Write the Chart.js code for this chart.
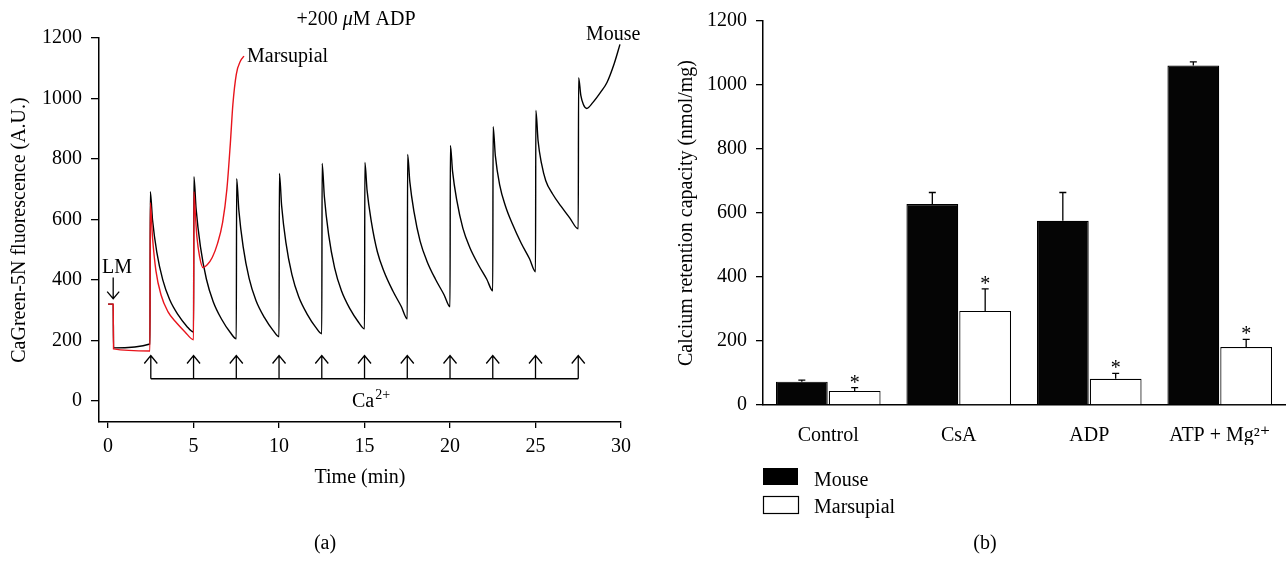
<!DOCTYPE html>
<html>
<head>
<meta charset="utf-8">
<script src="https://cdn.jsdelivr.net/npm/chart.js@4.4.0/dist/chart.umd.min.js"></script>
<style>
  html, body { margin: 0; padding: 0; background: #fff; }
  #wrap { position: relative; width: 1288px; height: 561px; }
  #cA { position: absolute; left: 0; top: 0; }
  #cB { position: absolute; left: 660px; top: 0; }
</style>
</head>
<body>
<div id="wrap">
  <canvas id="cA" width="660" height="561"></canvas>
  <canvas id="cB" width="628" height="561"></canvas>
</div>
<script>
// ---- panel (a): CaGreen-5N traces ----
const mouseTime = [0.0, 0.3, 0.32, 2.45,
  2.47, 2.6, 2.85, 3.2, 3.6, 4.1, 4.6, 5.0,
  5.02, 5.15, 5.4, 5.75, 6.15, 6.65, 7.15, 7.5,
  7.52, 7.65, 7.9, 8.25, 8.65, 9.15, 9.65, 10.0,
  10.02, 10.15, 10.4, 10.75, 11.15, 11.65, 12.15, 12.5,
  12.52, 12.65, 12.9, 13.25, 13.65, 14.15, 14.65, 15.0,
  15.02, 15.15, 15.4, 15.75, 16.15, 16.65, 17.15, 17.5,
  17.52, 17.65, 17.9, 18.25, 18.65, 19.15, 19.65, 20.0,
  20.02, 20.15, 20.4, 20.75, 21.15, 21.65, 22.15, 22.5,
  22.52, 22.65, 22.9, 23.25, 23.65, 24.15, 24.65, 25.0,
  25.02, 25.15, 25.35, 25.6, 26.0, 26.5, 27.0, 27.5,
  27.52, 27.65, 27.8, 28.0, 28.36, 28.8, 29.18, 29.6, 29.94];
const mouseSignal = [320, 320, 175, 188,
  692, 599, 492, 400, 335, 284, 247, 228,
  741, 634, 511, 403, 328, 269, 226, 205,
  735, 630, 510, 405, 332, 275, 233, 212,
  752, 646, 524, 418, 344, 286, 243, 222,
  785, 676, 550, 440, 364, 304, 260, 238,
  788, 695, 592, 493, 426, 364, 312, 271,
  815, 724, 623, 528, 462, 402, 351, 311,
  845, 758, 662, 571, 508, 451, 402, 364,
  907, 811, 715, 643, 585, 523, 470, 427,
  960, 860, 785, 728, 684, 643, 605, 569,
  1069, 1010, 980, 967, 987, 1020, 1053, 1115, 1179];
const marsTime = [0.0, 0.3, 0.32, 2.45,
  2.47, 2.6, 2.8, 3.1, 3.5, 4.0, 4.5, 5.0,
  5.02, 5.1, 5.2, 5.35, 5.55, 5.8, 6.1, 6.4, 6.7, 6.95, 7.15, 7.3, 7.5, 7.75, 7.95];
const marsSignal = [320, 320, 172, 165,
  655, 540, 430, 350, 295, 258, 228, 202,
  692, 620, 540, 478, 441, 450, 475, 520, 590, 700, 850, 980, 1080, 1125, 1140];
const caTimes = [2.5, 5, 7.5, 10, 12.5, 15, 17.5, 20, 22.5, 25, 27.5];
const timeTicks = [0, 5, 10, 15, 20, 25, 30];
const fluorTicks = [0, 200, 400, 600, 800, 1000, 1200];

// ---- panel (b): calcium retention capacity ----
const groups = ['Control', 'CsA', 'ADP', 'ATP + Mg\u00B2\u207A'];
const mouseCRC = [73, 628, 576, 1061];
const mouseErr = [5, 36, 88, 11];
const marsCRC = [44, 294, 82, 181];
const marsErr = [10, 69, 17, 24];
const crcTicks = [0, 200, 400, 600, 800, 1000, 1200];

const SERIF = '"Liberation Serif", "DejaVu Serif", serif';
Chart.defaults.font.family = SERIF;
Chart.defaults.font.size = 20;
Chart.defaults.color = '#000';
Chart.defaults.animation = false;

function xy(ts, vs) { return ts.map((t, i) => ({x: t, y: vs[i]})); }
const plain = v => String(v);

const annotA = {
  id: 'annotA',
  afterDatasetsDraw(chart) {
    const {ctx, scales: {x, y}} = chart;
    ctx.save();
    ctx.strokeStyle = '#000';
    ctx.lineWidth = 1.3;
    // Ca2+ additions
    const yb = y.getPixelForValue(73), yt = y.getPixelForValue(150);
    ctx.beginPath();
    ctx.moveTo(x.getPixelForValue(caTimes[0]), yb);
    ctx.lineTo(x.getPixelForValue(caTimes[caTimes.length - 1]), yb);
    caTimes.forEach(t => {
      const px = x.getPixelForValue(t);
      ctx.moveTo(px, yb); ctx.lineTo(px, yt);
      ctx.moveTo(px - 6.5, yt + 8); ctx.lineTo(px, yt); ctx.lineTo(px + 6.5, yt + 8);
    });
    // LM arrow
    const lx = x.getPixelForValue(0.3);
    const l1 = y.getPixelForValue(408), l2 = y.getPixelForValue(338);
    ctx.moveTo(lx, l1); ctx.lineTo(lx, l2);
    ctx.moveTo(lx - 6, l2 - 7); ctx.lineTo(lx, l2); ctx.lineTo(lx + 6, l2 - 7);
    ctx.stroke();

    ctx.fillStyle = '#000';
    ctx.textBaseline = 'alphabetic';
    ctx.font = '20px ' + SERIF;
    ctx.textAlign = 'left';
    ctx.fillText('LM', 102, 273);
    ctx.fillText('Marsupial', 247, 62);
    ctx.fillText('Mouse', 586, 40);
    // Ca2+
    ctx.fillText('Ca', 352, 407);
    const caW = ctx.measureText('Ca').width;
    ctx.font = '14px ' + SERIF;
    ctx.fillText('2+', 352 + caW + 1, 399);
    // +200 uM ADP
    ctx.font = '20px ' + SERIF;
    const p1 = '+200 ', p3 = 'M ADP';
    const w1 = ctx.measureText(p1).width, w3 = ctx.measureText(p3).width;
    ctx.font = 'italic 20px ' + SERIF;
    const w2 = ctx.measureText('\u03BC').width;
    let sx = 356 - (w1 + w2 + w3) / 2;
    ctx.font = '20px ' + SERIF;
    ctx.fillText(p1, sx, 25);
    ctx.font = 'italic 20px ' + SERIF;
    ctx.fillText('\u03BC', sx + w1, 25);
    ctx.font = '20px ' + SERIF;
    ctx.fillText(p3, sx + w1 + w2, 25);
    ctx.textAlign = 'center';
    ctx.fillText('(a)', 325, 549);
    ctx.restore();
  }
};

new Chart(document.getElementById('cA'), {
  type: 'line',
  data: {
    datasets: [
      {label: 'Marsupial', data: xy(marsTime, marsSignal), borderColor: '#e8141c', borderWidth: 1.4,
       pointRadius: 0, cubicInterpolationMode: 'monotone', fill: false},
      {label: 'Mouse', data: xy(mouseTime, mouseSignal), borderColor: '#000', borderWidth: 1.4,
       pointRadius: 0, cubicInterpolationMode: 'monotone', fill: false}
    ]
  },
  options: {
    responsive: false,
    layout: {padding: {left: 0, right: 39, top: 38, bottom: 71}},
    plugins: {legend: {display: false}, tooltip: {enabled: false}},
    scales: {
      x: {
        type: 'linear', min: -0.53, max: 30,
        afterBuildTicks: s => { s.ticks = timeTicks.map(v => ({value: v})); },
        afterFit: s => { s.height = 68; },
        grid: {drawOnChartArea: false, drawTicks: true, tickLength: 6, color: '#000', lineWidth: 1.3},
        border: {display: true, color: '#000', width: 1.5},
        ticks: {padding: 7, maxRotation: 0, callback: plain},
        title: {display: true, text: 'Time (min)', padding: {top: 0, bottom: 0}}
      },
      y: {
        min: -70, max: 1200,
        afterBuildTicks: s => { s.ticks = fluorTicks.map(v => ({value: v})); },
        afterFit: s => { s.width = 99; },
        grid: {drawOnChartArea: false, drawTicks: true, tickLength: 8, color: '#000', lineWidth: 1.3},
        border: {display: true, color: '#000', width: 1.5},
        ticks: {padding: 9, callback: plain},
        title: {display: true, text: 'CaGreen-5N fluorescence (A.U.)', padding: {top: 8, bottom: 0}}
      }
    }
  },
  plugins: [annotA]
});

const annotB = {
  id: 'annotB',
  afterDatasetsDraw(chart) {
    const {ctx} = chart;
    const y = chart.scales.y;
    ctx.save();
    ctx.strokeStyle = '#000';
    ctx.fillStyle = '#000';
    ctx.lineWidth = 1.3;
    [[0, mouseCRC, mouseErr], [1, marsCRC, marsErr]].forEach(([di, vals, errs]) => {
      chart.getDatasetMeta(di).data.forEach((bar, i) => {
        const top = y.getPixelForValue(vals[i] + errs[i]);
        ctx.beginPath();
        ctx.moveTo(bar.x, bar.y); ctx.lineTo(bar.x, top);
        ctx.moveTo(bar.x - 3.5, top); ctx.lineTo(bar.x + 3.5, top);
        ctx.stroke();
        if (di === 1) {
          ctx.font = '20px ' + SERIF;
          ctx.textAlign = 'center';
          ctx.textBaseline = 'alphabetic';
          ctx.fillText('*', bar.x, top + 1);
        }
      });
    });
    // legend
    ctx.fillRect(103, 468, 35, 17);
    ctx.lineWidth = 1.2;
    ctx.strokeRect(103.5, 496.5, 35, 17);
    ctx.font = '20px ' + SERIF;
    ctx.textAlign = 'left';
    ctx.textBaseline = 'alphabetic';
    ctx.fillText('Mouse', 154, 486);
    ctx.fillText('Marsupial', 154, 513);
    ctx.textAlign = 'center';
    ctx.fillText('(b)', 325, 549);
    ctx.restore();
  }
};

new Chart(document.getElementById('cB'), {
  type: 'bar',
  data: {
    labels: groups,
    datasets: [
      {label: 'Mouse', data: mouseCRC, backgroundColor: '#050505', borderColor: '#000', borderWidth: 1.2},
      {label: 'Marsupial', data: marsCRC, backgroundColor: '#fff', borderColor: '#000', borderWidth: 1.2}
    ]
  },
  options: {
    responsive: false,
    categoryPercentage: 0.81,
    barPercentage: 0.98,
    layout: {padding: {left: 0, right: 3, top: 20, bottom: 116}},
    plugins: {legend: {display: false}, tooltip: {enabled: false}},
    scales: {
      x: {
        afterFit: s => { s.height = 40; },
        grid: {display: false},
        border: {display: true, color: '#000', width: 1.5},
        ticks: {padding: 11, maxRotation: 0}
      },
      y: {
        min: 0, max: 1200,
        afterBuildTicks: s => { s.ticks = crcTicks.map(v => ({value: v})); },
        afterFit: s => { s.width = 103; },
        grid: {drawOnChartArea: false, drawTicks: true, tickLength: 7, color: '#000', lineWidth: 1.3},
        border: {display: true, color: '#000', width: 1.5},
        ticks: {padding: 9, callback: plain},
        title: {display: true, text: 'Calcium retention capacity (nmol/mg)', padding: {top: 15, bottom: 0}}
      }
    }
  },
  plugins: [annotB]
});
</script>
</body>
</html>
